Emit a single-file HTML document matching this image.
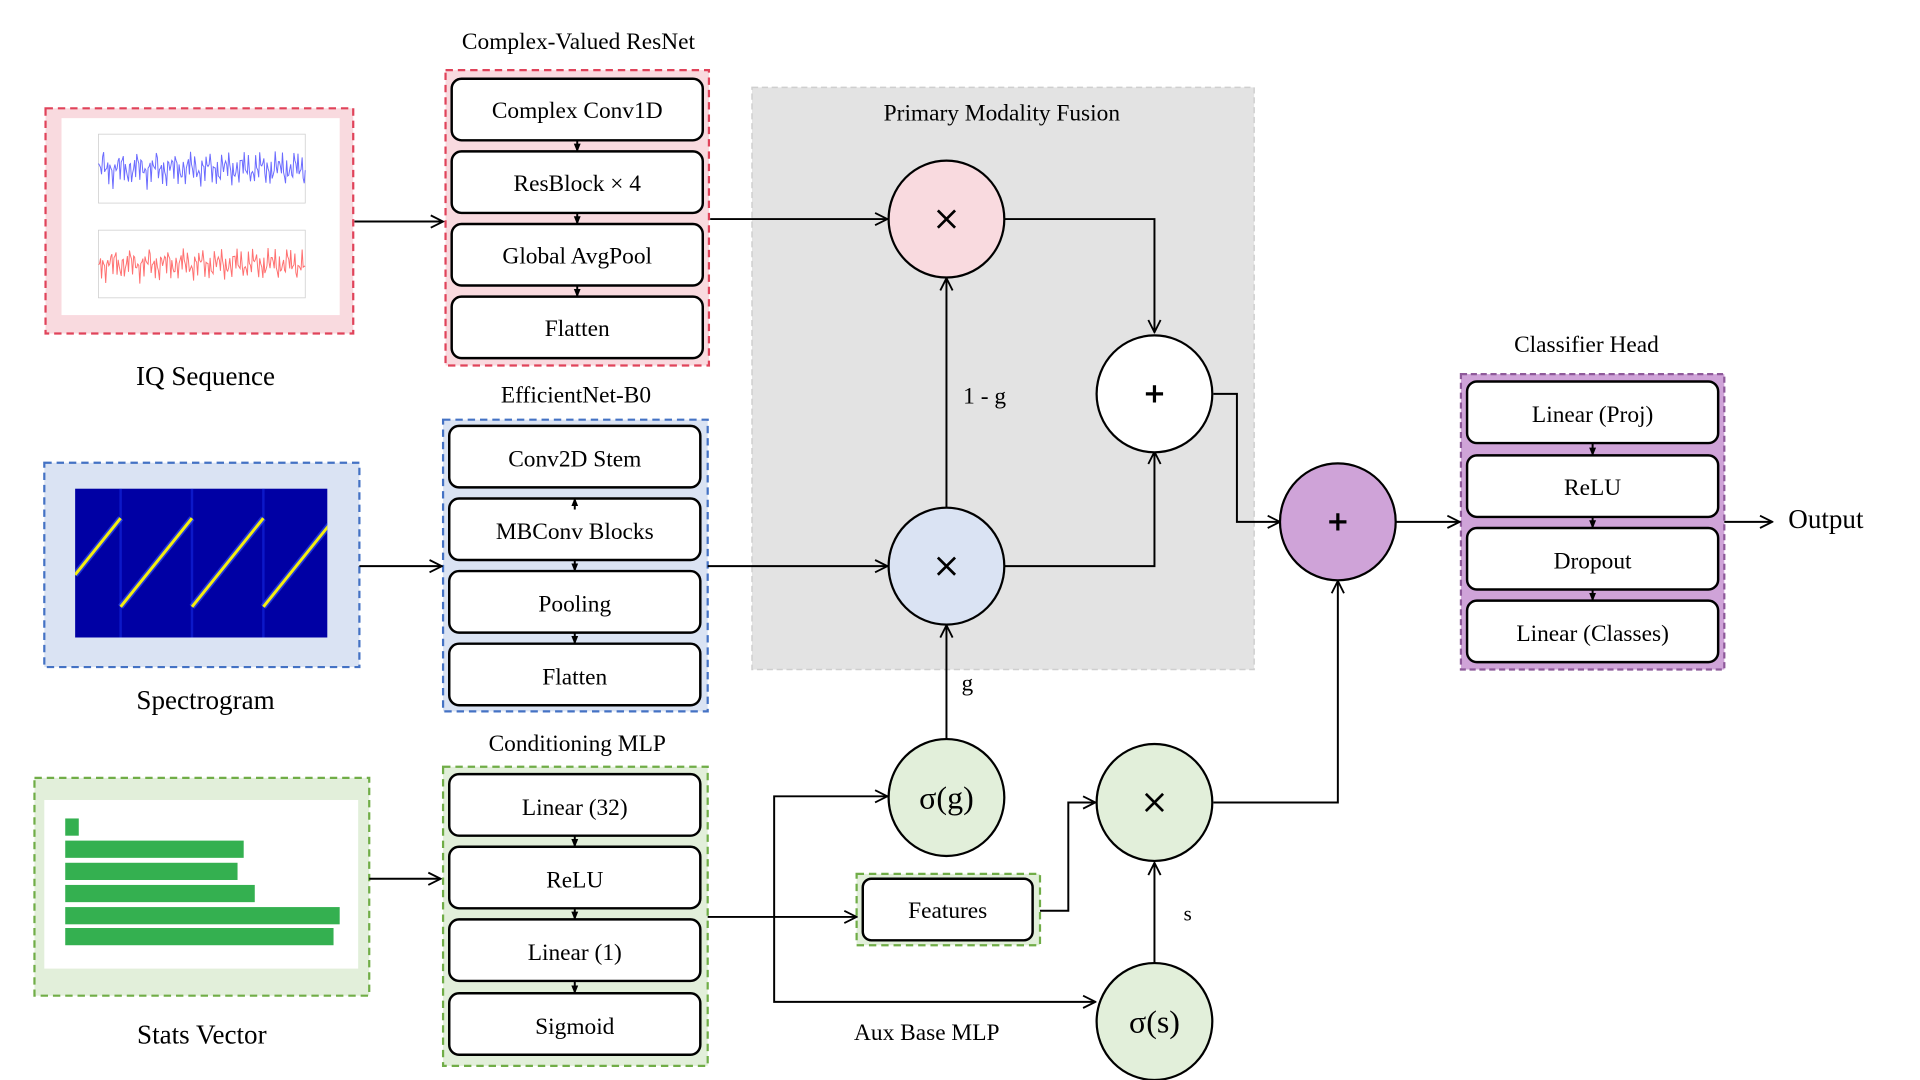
<!DOCTYPE html>
<html><head><meta charset="utf-8"><style>
html,body{margin:0;padding:0;background:#fff;}
svg{display:block;}
text{font-family:"Liberation Serif","DejaVu Serif",serif;fill:#000;}
.b{fill:#fff;stroke:#000;stroke-width:2;}
.c{stroke:#000;stroke-width:1.6;}
.ln{fill:none;stroke:#000;stroke-width:1.6;}
</style></head><body>
<svg width="1920" height="1080" viewBox="0 0 1560 877.5" preserveAspectRatio="none" xmlns="http://www.w3.org/2000/svg">
<defs>
<marker id="oa" viewBox="0 0 12 12" refX="11" refY="6" markerWidth="12" markerHeight="12" markerUnits="userSpaceOnUse" orient="auto"><path d="M1,1 L11,6 L1,11" fill="none" stroke="#000" stroke-width="1.5"/></marker>
<marker id="fa" viewBox="0 0 10 10" refX="9" refY="5" markerWidth="7" markerHeight="7" markerUnits="userSpaceOnUse" orient="auto"><path d="M0,1 L10,5 L0,9 Z" fill="#000"/></marker>
</defs>

<rect x="611" y="71" width="408" height="473" fill="#e3e3e3" stroke="#cfcfcf" stroke-dasharray="5,3" stroke-width="1.2"/>
<text x="814" y="98" font-size="19" text-anchor="middle">Primary Modality Fusion</text>

<rect x="37" y="88" width="250" height="183" fill="#f9dadf" stroke="#e0435a" stroke-width="1.8" stroke-dasharray="6,4"/>
<rect x="50" y="96" width="226" height="160" fill="#fff"/>
<rect x="80" y="109" width="168" height="56" fill="none" stroke="#ccc" stroke-width="0.6"/>
<rect x="80" y="187" width="168" height="55" fill="none" stroke="#ccc" stroke-width="0.6"/>
<polyline id="pb" fill="none" stroke="#6b6bff" stroke-width="0.8" points=""/>
<polyline id="pr" fill="none" stroke="#ff7070" stroke-width="0.8" points=""/>
<text x="167" y="313" font-size="22" text-anchor="middle">IQ Sequence</text>

<text x="470" y="40" font-size="19" text-anchor="middle">Complex-Valued ResNet</text>
<rect x="362" y="57" width="214" height="240" fill="#f9dadf" stroke="#e0435a" stroke-width="1.8" stroke-dasharray="6,4"/>
<rect class="b" x="367" y="64" width="204" height="50" rx="8"/>
<rect class="b" x="367" y="123" width="204" height="50" rx="8"/>
<rect class="b" x="367" y="182" width="204" height="50" rx="8"/>
<rect class="b" x="367" y="241" width="204" height="50" rx="8"/>
<text x="469" y="96" font-size="19" text-anchor="middle">Complex Conv1D</text>
<text x="469" y="155" font-size="19" text-anchor="middle">ResBlock × 4</text>
<text x="469" y="214" font-size="19" text-anchor="middle">Global AvgPool</text>
<text x="469" y="273" font-size="19" text-anchor="middle">Flatten</text>
<line class="c" x1="469" y1="114" x2="469" y2="123" marker-end="url(#fa)"/>
<line class="c" x1="469" y1="173" x2="469" y2="182" marker-end="url(#fa)"/>
<line class="c" x1="469" y1="232" x2="469" y2="241" marker-end="url(#fa)"/>

<rect x="36" y="376" width="256" height="166" fill="#dae3f3" stroke="#4472c4" stroke-width="1.8" stroke-dasharray="6,4"/>
<svg x="61" y="397" width="205" height="121" viewBox="61 397 205 121">
<rect x="61" y="397" width="205" height="121" fill="#0000a4"/>
<g stroke="#1f3cff" stroke-width="2" opacity="0.4"><line x1="98" y1="397" x2="98" y2="518"/><line x1="156" y1="397" x2="156" y2="518"/><line x1="214" y1="397" x2="214" y2="518"/></g>
<g stroke="#3a5cff" stroke-width="5" opacity="0.6"><line x1="61" y1="467" x2="98" y2="421"/><line x1="98" y1="493" x2="156" y2="421"/><line x1="156" y1="493" x2="214" y2="421"/><line x1="214" y1="493" x2="272" y2="421"/></g>
<g stroke="#f4ee10" stroke-width="2.4"><line x1="61" y1="467" x2="98" y2="421"/><line x1="98" y1="493" x2="156" y2="421"/><line x1="156" y1="493" x2="214" y2="421"/><line x1="214" y1="493" x2="272" y2="421"/></g>
</svg>
<text x="167" y="576" font-size="22" text-anchor="middle">Spectrogram</text>

<text x="468" y="327" font-size="19" text-anchor="middle">EfficientNet-B0</text>
<rect x="360" y="341" width="215" height="237" fill="#dae3f3" stroke="#4472c4" stroke-width="1.8" stroke-dasharray="6,4"/>
<rect class="b" x="365" y="346" width="204" height="50" rx="8"/>
<rect class="b" x="365" y="405" width="204" height="50" rx="8"/>
<rect class="b" x="365" y="464" width="204" height="50" rx="8"/>
<rect class="b" x="365" y="523" width="204" height="50" rx="8"/>
<text x="467" y="379" font-size="19" text-anchor="middle">Conv2D Stem</text>
<text x="467" y="438" font-size="19" text-anchor="middle">MBConv Blocks</text>
<text x="467" y="497" font-size="19" text-anchor="middle">Pooling</text>
<text x="467" y="556" font-size="19" text-anchor="middle">Flatten</text>
<line class="c" x1="467" y1="414" x2="467" y2="405" marker-end="url(#fa)"/>
<line class="c" x1="467" y1="455" x2="467" y2="464" marker-end="url(#fa)"/>
<line class="c" x1="467" y1="514" x2="467" y2="523" marker-end="url(#fa)"/>

<rect x="28" y="632" width="272" height="177" fill="#e2efda" stroke="#70ad47" stroke-width="1.8" stroke-dasharray="6,4"/>
<rect x="36" y="650" width="255" height="137" fill="#fff"/>
<g fill="#34b050">
<rect x="53" y="665" width="11" height="14"/>
<rect x="53" y="683" width="145" height="14"/>
<rect x="53" y="701" width="140" height="14"/>
<rect x="53" y="719" width="154" height="14"/>
<rect x="53" y="737" width="223" height="14"/>
<rect x="53" y="754" width="218" height="14"/>
</g>
<text x="164" y="848" font-size="22" text-anchor="middle">Stats Vector</text>

<text x="469" y="610" font-size="19" text-anchor="middle">Conditioning MLP</text>
<rect x="360" y="623" width="215" height="243" fill="#e2efda" stroke="#70ad47" stroke-width="1.8" stroke-dasharray="6,4"/>
<rect class="b" x="365" y="629" width="204" height="50" rx="8"/>
<rect class="b" x="365" y="688" width="204" height="50" rx="8"/>
<rect class="b" x="365" y="747" width="204" height="50" rx="8"/>
<rect class="b" x="365" y="807" width="204" height="50" rx="8"/>
<text x="467" y="662" font-size="19" text-anchor="middle">Linear (32)</text>
<text x="467" y="721" font-size="19" text-anchor="middle">ReLU</text>
<text x="467" y="780" font-size="19" text-anchor="middle">Linear (1)</text>
<text x="467" y="840" font-size="19" text-anchor="middle">Sigmoid</text>
<line class="c" x1="467" y1="679" x2="467" y2="688" marker-end="url(#fa)"/>
<line class="c" x1="467" y1="738" x2="467" y2="747" marker-end="url(#fa)"/>
<line class="c" x1="467" y1="797" x2="467" y2="807" marker-end="url(#fa)"/>

<rect x="696" y="710" width="149" height="58" fill="#e2efda" stroke="#70ad47" stroke-width="1.8" stroke-dasharray="6,4"/>
<rect class="b" x="701" y="714" width="138" height="50" rx="7"/>
<text x="770" y="746" font-size="19" text-anchor="middle">Features</text>

<text x="1289" y="286" font-size="19" text-anchor="middle">Classifier Head</text>
<rect x="1187" y="304" width="214" height="240" fill="#cfa3d8" stroke="#8e5a9a" stroke-width="1.8" stroke-dasharray="5,3"/>
<rect class="b" x="1192" y="310" width="204" height="50" rx="8"/>
<rect class="b" x="1192" y="370" width="204" height="50" rx="8"/>
<rect class="b" x="1192" y="429" width="204" height="50" rx="8"/>
<rect class="b" x="1192" y="488" width="204" height="50" rx="8"/>
<text x="1294" y="343" font-size="19" text-anchor="middle">Linear (Proj)</text>
<text x="1294" y="402" font-size="19" text-anchor="middle">ReLU</text>
<text x="1294" y="462" font-size="19" text-anchor="middle">Dropout</text>
<text x="1294" y="521" font-size="19" text-anchor="middle">Linear (Classes)</text>
<line class="c" x1="1294" y1="360" x2="1294" y2="370" marker-end="url(#fa)"/>
<line class="c" x1="1294" y1="420" x2="1294" y2="429" marker-end="url(#fa)"/>
<line class="c" x1="1294" y1="479" x2="1294" y2="488" marker-end="url(#fa)"/>
<text x="1453" y="429" font-size="22">Output</text>

<line class="ln" x1="288" y1="180" x2="360" y2="180" marker-end="url(#oa)"/>
<line class="ln" x1="577" y1="178" x2="721" y2="178" marker-end="url(#oa)"/>
<polyline class="ln" points="812,178 938,178 938,270" marker-end="url(#oa)"/>
<line class="ln" x1="769" y1="413" x2="769" y2="226" marker-end="url(#oa)"/>
<line class="ln" x1="292" y1="460" x2="359" y2="460" marker-end="url(#oa)"/>
<line class="ln" x1="575" y1="460" x2="721" y2="460" marker-end="url(#oa)"/>
<polyline class="ln" points="816,460 938,460 938,367" marker-end="url(#oa)"/>
<polyline class="ln" points="986,320 1005,320 1005,424 1040,424" marker-end="url(#oa)"/>
<line class="ln" x1="769" y1="601" x2="769" y2="508" marker-end="url(#oa)"/>
<line class="ln" x1="300" y1="714" x2="358" y2="714" marker-end="url(#oa)"/>
<line class="ln" x1="575" y1="745" x2="696" y2="745" marker-end="url(#oa)"/>
<polyline class="ln" points="721,647 629,647 629,814 890,814" marker-end="url(#oa)"/>
<line class="ln" x1="718" y1="647" x2="721" y2="647" marker-end="url(#oa)"/>
<polyline class="ln" points="845,740 868,740 868,652 890,652" marker-end="url(#oa)"/>
<line class="ln" x1="938" y1="782" x2="938" y2="701" marker-end="url(#oa)"/>
<polyline class="ln" points="986,652 1087,652 1087,472" marker-end="url(#oa)"/>
<line class="ln" x1="1134" y1="424" x2="1186" y2="424" marker-end="url(#oa)"/>
<line class="ln" x1="1401" y1="424" x2="1440" y2="424" marker-end="url(#oa)"/>

<text x="800" y="328" font-size="19" text-anchor="middle">1 - g</text>
<text x="786" y="561" font-size="19" text-anchor="middle">g</text>
<text x="965" y="748" font-size="17" text-anchor="middle">s</text>
<text x="753" y="845" font-size="19" text-anchor="middle">Aux Base MLP</text>

<ellipse cx="769" cy="178" rx="47" ry="47.5" fill="#f9dadf" stroke="#000" stroke-width="1.8"/>
<ellipse cx="938" cy="320" rx="47" ry="47.5" fill="#fff" stroke="#000" stroke-width="1.8"/>
<ellipse cx="769" cy="460" rx="47" ry="47.5" fill="#dae3f3" stroke="#000" stroke-width="1.8"/>
<ellipse cx="1087" cy="424" rx="47" ry="47.5" fill="#cfa3d8" stroke="#000" stroke-width="1.8"/>
<ellipse cx="769" cy="648" rx="47" ry="47.5" fill="#e2efda" stroke="#000" stroke-width="1.8"/>
<ellipse cx="938" cy="652" rx="47" ry="47.5" fill="#e2efda" stroke="#000" stroke-width="1.8"/>
<ellipse cx="938" cy="830" rx="47" ry="47.5" fill="#e2efda" stroke="#000" stroke-width="1.8"/>
<g stroke="#000" stroke-width="2.2">
<path d="M762,171 L776,185 M776,171 L762,185"/>
<path d="M762,453 L776,467 M776,453 L762,467"/>
<path d="M931,645 L945,659 M945,645 L931,659"/>
<path d="M931,320 L945,320 M938,313 L938,327" stroke-width="2.6"/>
<path d="M1080,424 L1094,424 M1087,417 L1087,431" stroke-width="2.6"/>
</g>
<text x="769" y="657" font-size="26" text-anchor="middle">σ(g)</text>
<text x="938" y="839" font-size="26" text-anchor="middle">σ(s)</text>
</svg>
<script>
function gen(id,mid,amp,seed){var p=[];for(var i=0;i<=200;i++){var x=80+i*168/200;var t=i+seed;var v=Math.sin(t*1.7)*0.5+Math.sin(t*2.9+1)*0.35+Math.sin(t*0.37)*0.3+Math.sin(t*5.3)*0.2;p.push(x.toFixed(1)+","+(mid-v*amp).toFixed(1));}document.getElementById(id).setAttribute("points",p.join(" "));}
gen("pb",137,14,0);gen("pr",214.5,13,7);
</script>
</body></html>
